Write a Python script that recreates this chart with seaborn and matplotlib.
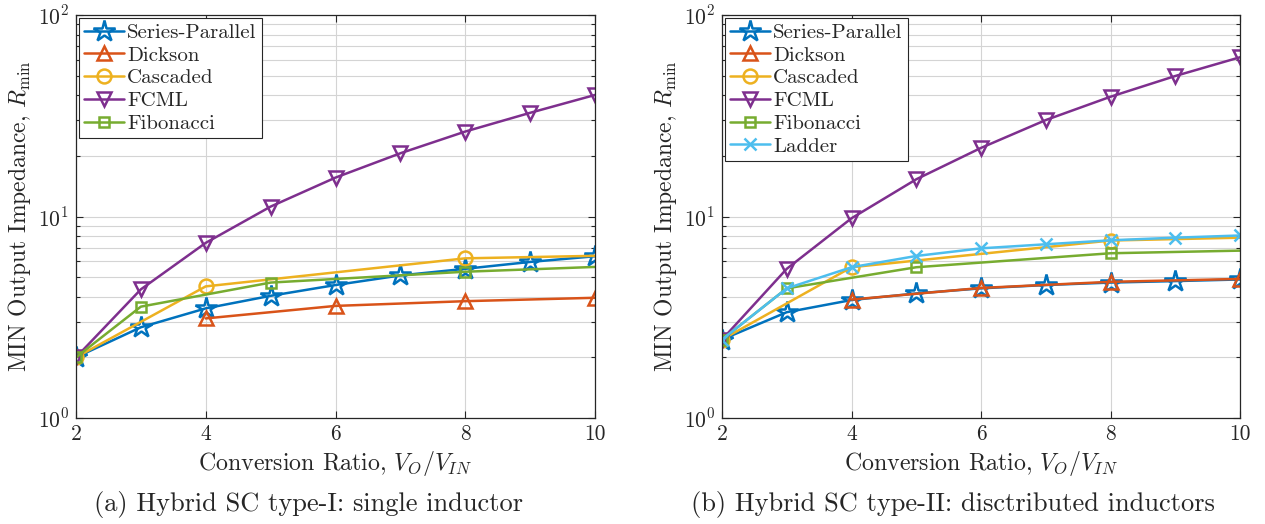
import numpy as np
import matplotlib
matplotlib.use("Agg")
import matplotlib.pyplot as plt
import seaborn as sns
from matplotlib.ticker import LogLocator, FixedLocator, NullFormatter

sns.set_theme(style="ticks")
plt.rcParams["font.family"] = ["cmr10", "DejaVu Serif"]
plt.rcParams["mathtext.fontset"] = "cm"
plt.rcParams["axes.formatter.use_mathtext"] = True
plt.rcParams["axes.unicode_minus"] = False

# ---------------- data: panel (a) ----------------
a_sp_x = [2, 3, 4, 5, 6, 7, 8, 9, 10]
a_sp_y = [2.0, 2.82, 3.5, 4.04, 4.57, 5.1, 5.5, 5.95, 6.35]
a_dk_x = [4, 6, 8, 10]
a_dk_y = [3.12, 3.6, 3.8, 3.95]
a_cs_x = [2, 4, 8, 10]
a_cs_y = [2.0, 4.5, 6.2, 6.38]
a_fc_x = [2, 3, 4, 5, 6, 7, 8, 9, 10]
a_fc_y = [2.0, 4.35, 7.4, 11.2, 15.6, 20.6, 26.4, 32.7, 40.1]
a_fb_x = [2, 3, 5, 8, 10]
a_fb_y = [2.0, 3.57, 4.7, 5.32, 5.62]

# ---------------- data: panel (b) ----------------
b_sp_x = [2, 3, 4, 5, 6, 7, 8, 9, 10]
b_sp_y = [2.45, 3.35, 3.85, 4.15, 4.4, 4.57, 4.7, 4.78, 4.87]
b_dk_x = [4, 6, 8, 10]
b_dk_y = [3.87, 4.42, 4.74, 4.9]
b_cs_x = [2, 4, 8, 10]
b_cs_y = [2.45, 5.6, 7.6, 7.85]
b_fc_x = [2, 3, 4, 5, 6, 7, 8, 9, 10]
b_fc_y = [2.45, 5.5, 9.8, 15.3, 21.9, 30.1, 39.3, 49.8, 61.7]
b_fb_x = [2, 3, 5, 8, 10]
b_fb_y = [2.45, 4.4, 5.6, 6.57, 6.77]
b_ld_x = [2, 3, 4, 5, 6, 7, 8, 9, 10]
b_ld_y = [2.45, 4.4, 5.6, 6.37, 6.95, 7.28, 7.62, 7.85, 8.05]

x_ticks = [2, 4, 6, 8, 10]
x_label = "Conversion Ratio, $V_O/V_{IN}$"
y_label = "MIN Output Impedance, $R_{\\min}$"
captions = ["(a) Hybrid SC type-I: single inductor",
            "(b) Hybrid SC type-II: disctributed inductors"]

C = {"sp": "#0072BD", "dk": "#D95319", "cs": "#EDB120",
     "fc": "#7E2F8E", "fb": "#77AC30", "ld": "#4DBEEE"}

fig = plt.figure(figsize=(12.65, 5.24), dpi=100)
W, H = 1265, 524
axA = fig.add_axes([76 / W, (H - 418) / H, 519 / W, 403 / H])
axB = fig.add_axes([722 / W, (H - 418) / H, 518 / W, 403 / H])

def series(ax, x, y, color, marker, label, ms, markevery=None):
    sns.lineplot(x=x, y=y, ax=ax, color=color, marker=marker, markersize=ms,
                 markerfacecolor="none", markeredgecolor=color, markeredgewidth=1.8,
                 linewidth=1.8, label=label, markevery=markevery, sort=False,
                 estimator=None)

def style(ax):
    ax.set_yscale("log")
    ax.set_xlim(2, 10)
    ax.set_ylim(1, 100)
    ax.set_xticks(x_ticks)
    ax.set_xticklabels([str(t) for t in x_ticks])
    ax.yaxis.set_major_locator(FixedLocator([1, 10, 100]))
    ax.yaxis.set_minor_locator(LogLocator(base=10, subs=np.arange(2, 10)))
    ax.yaxis.set_minor_formatter(NullFormatter())
    ax.set_yticklabels(["$10^0$", "$10^1$", "$10^2$"])
    ax.grid(True, which="major", axis="x", color="#d4d4d4", linewidth=0.8)
    ax.grid(True, which="major", axis="y", color="#d4d4d4", linewidth=0.8)
    ax.grid(True, which="minor", axis="y", color="#d4d4d4", linewidth=0.8)
    ax.set_axisbelow(True)
    ax.tick_params(which="both", direction="in", top=True, right=True,
                   labelsize=15.5, color="#262626", pad=5)
    ax.tick_params(which="major", length=5, width=0.8)
    ax.tick_params(which="minor", length=3, width=0.8)
    for s in ax.spines.values():
        s.set_color("#262626")
        s.set_linewidth(0.9)
    ax.set_xlabel(x_label, fontsize=17.2, labelpad=3)
    ax.set_ylabel(y_label, fontsize=17, labelpad=3)
    leg = ax.legend(loc="upper left", fontsize=15, frameon=True, fancybox=False,
                    handlelength=1.9, handletextpad=0.15, borderpad=0.25,
                    labelspacing=0.2, borderaxespad=0.15)
    leg.get_frame().set_edgecolor("#262626")
    leg.get_frame().set_linewidth(0.8)
    leg.get_frame().set_alpha(1)

series(axA, a_sp_x, a_sp_y, C["sp"], "*", "Series-Parallel", 16)
series(axA, a_dk_x, a_dk_y, C["dk"], "^", "Dickson", 10)
series(axA, a_cs_x, a_cs_y, C["cs"], "o", "Cascaded", 10, markevery=[0, 1, 2])
series(axA, a_fc_x, a_fc_y, C["fc"], "v", "FCML", 10)
series(axA, a_fb_x, a_fb_y, C["fb"], "s", "Fibonacci", 7, markevery=[0, 1, 2, 3])
style(axA)

series(axB, b_sp_x, b_sp_y, C["sp"], "*", "Series-Parallel", 16)
series(axB, b_dk_x, b_dk_y, C["dk"], "^", "Dickson", 10)
series(axB, b_cs_x, b_cs_y, C["cs"], "o", "Cascaded", 10, markevery=[0, 1, 2])
series(axB, b_fc_x, b_fc_y, C["fc"], "v", "FCML", 10)
series(axB, b_fb_x, b_fb_y, C["fb"], "s", "Fibonacci", 7, markevery=[0, 1, 2, 3])
series(axB, b_ld_x, b_ld_y, C["ld"], "x", "Ladder", 9)
style(axB)

fig.text(308 / W, 1 - 505 / H, captions[0], ha="center", va="center", fontsize=19)
fig.text(953 / W, 1 - 505 / H, captions[1], ha="center", va="center", fontsize=19)

fig.savefig("out.png", dpi=100, facecolor="white")
